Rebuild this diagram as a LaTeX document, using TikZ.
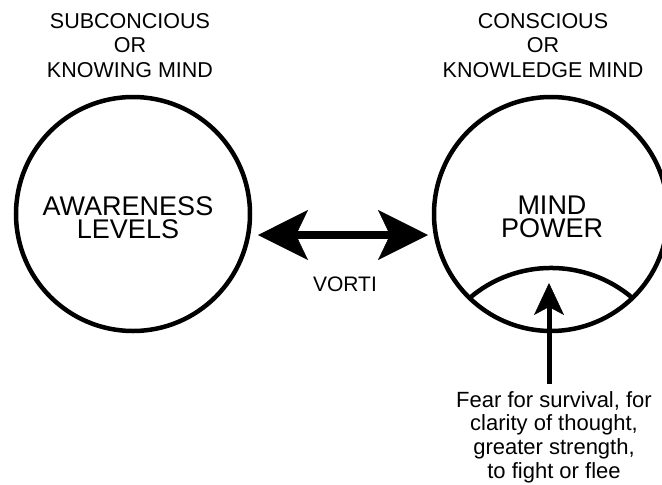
\documentclass[tikz,border=0pt]{standalone}
\usepackage{fontspec}
\setmainfont{Liberation Sans}
\usetikzlibrary{arrows.meta}
\begin{document}
\begin{tikzpicture}[x=1pt,y=-1pt,
  ring/.style={circle, draw, line width=4.5pt, inner sep=0pt, minimum size=234pt},
  lab/.style={inner sep=0pt, anchor=north, align=center, font=\fontsize{21.5}{24.5}\selectfont},
  bigtext/.style={inner sep=0pt, anchor=north, align=center, font=\fontsize{27}{23}\selectfont},
  bigtip/.style={Stealth[length=50pt,width=50pt,inset=12pt,line width=0.5pt]},
  smalltip/.style={Stealth[length=32pt,width=30pt,inset=8pt,line width=0.5pt]}
]
\useasboundingbox (0,0) rectangle (662,485);

% circles
\node[ring] (L) at (133,214) {};
\node[ring] (R) at (551,214) {};

% top labels
\node[lab] (tl) at (130,13) {SUBCONCIOUS\\OR\\KNOWING MIND};
\node[lab] (tr) at (543,13) {CONSCIOUS\\OR\\KNOWLEDGE MIND};

% circle texts
\node[bigtext] (aw) at (128,196) {AWARENESS\\LEVELS};
\node[bigtext] (mp) at (552,196) {MIND\\POWER};

% inner arc of right circle
\draw[line width=4.5pt] (469.6,298) arc[start angle=229.5, end angle=310.5, radius=125.4];

% double arrow
\coordinate (aL) at (258,235);
\coordinate (aR) at (428,235);
\draw[line width=8pt, {Stealth[length=50pt,width=50pt,inset=12pt,line width=0.5pt]}-{Stealth[length=50pt,width=50pt,inset=12pt,line width=0.5pt]}] (aL) -- (aR);
\node[inner sep=0pt, anchor=north, font=\fontsize{21}{24}\selectfont] (vo) at (345,277) {VORTI};

% bottom text and arrow
\node[inner sep=0pt, anchor=north, align=center, font=\fontsize{22}{23.8}\selectfont] (fear) at (554,391)
  {Fear for survival, for\\clarity of thought,\\greater strength,\\to fight or flee};
\coordinate (vt) at (549,283);
\draw[line width=5pt, -{Stealth[length=32pt,width=30pt,inset=8pt,line width=0.5pt]}, shorten <=7pt] (fear.north -| vt) -- (vt);
\end{tikzpicture}
\end{document}
